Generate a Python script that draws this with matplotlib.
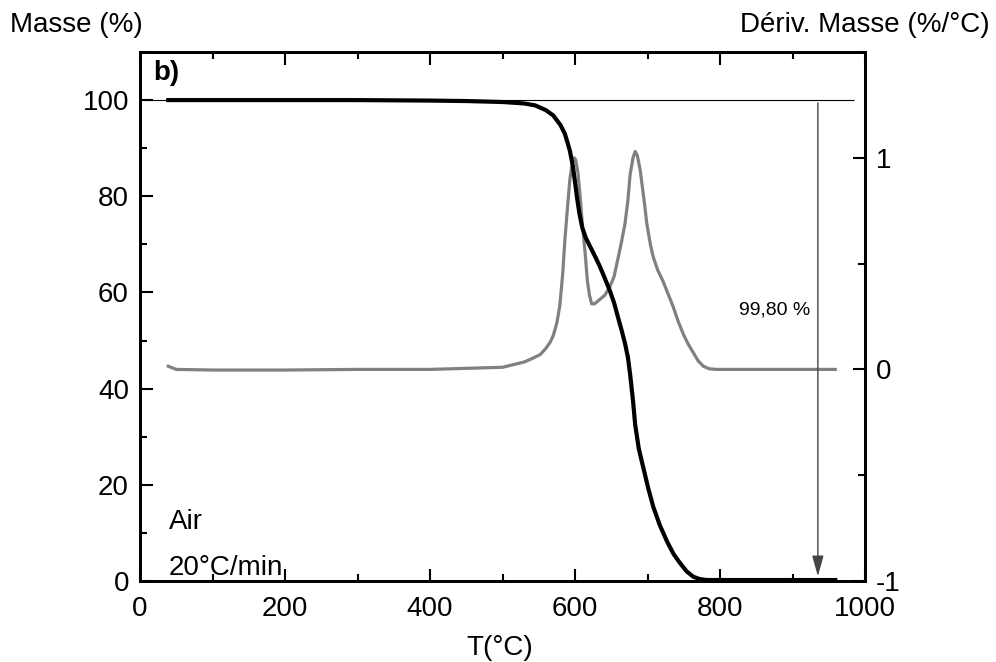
import matplotlib.pyplot as plt
from matplotlib.ticker import MultipleLocator

plt.rcParams['font.family'] = ['Liberation Sans', 'DejaVu Sans']

# mass loss curve (TG)
temp_tg = [39, 100, 200, 300, 400, 450, 500, 530, 545, 560, 570, 580, 586, 590, 593,
           597, 600, 603, 606, 610, 615, 621, 628, 634, 641, 648, 654, 659, 664, 669,
           673, 676, 680, 683, 688, 694, 701, 708, 717, 727, 736, 745, 754, 763, 772,
           782, 820, 900, 959]
mass = [100, 100, 100, 100, 99.9, 99.8, 99.6, 99.3, 98.9, 97.9, 96.8, 94.8, 93.0, 91.0,
        89.4, 86.3, 83.0, 79.5, 76.5, 73.5, 71.3, 69.5, 67.4, 65.5, 63.0, 60.4, 57.8,
        55.0, 52.3, 49.4, 46.5, 43.0, 37.5, 32.5, 27.5, 23.7, 19.3, 15.4, 11.6, 8.2,
        5.6, 3.7, 2.0, 0.9, 0.4, 0.2, 0.2, 0.2, 0.2]

# derivative curve (DTG)
temp_dtg = [39, 50, 100, 200, 300, 400, 500, 530, 540, 552, 560, 566, 570, 575, 579,
            583, 586, 590, 593, 596, 599, 601, 604, 607, 610, 614, 617, 620, 623, 627,
            634, 641, 648, 654, 659, 664, 669, 673, 676, 680, 683, 686, 690, 693, 696,
            699, 704, 708, 714, 721, 728, 735, 742, 749, 756, 763, 770, 777, 785, 795,
            850, 900, 959]
deriv = [0.015, 0.0, -0.003, -0.003, 0.0, 0.0, 0.01, 0.035, 0.05, 0.07, 0.10, 0.13,
         0.16, 0.22, 0.30, 0.45, 0.61, 0.78, 0.90, 0.97, 1.00, 0.99, 0.93, 0.82, 0.69,
         0.55, 0.42, 0.35, 0.31, 0.31, 0.33, 0.35, 0.39, 0.44, 0.52, 0.60, 0.69, 0.80,
         0.92, 1.00, 1.03, 1.01, 0.94, 0.86, 0.78, 0.69, 0.59, 0.53, 0.47, 0.42, 0.36,
         0.30, 0.23, 0.17, 0.12, 0.08, 0.04, 0.015, 0.003, 0.0, 0.0, 0.0, 0.0]

total_loss = '99,80 %'
arrow_T = 935

fig = plt.figure(figsize=(9.96, 6.62), dpi=100)
ax = fig.add_axes([140 / 996, 1 - 581 / 662, 725 / 996, 529 / 662])
ax2 = ax.twinx()
ax.set_zorder(ax2.get_zorder() + 1)
ax.patch.set_visible(False)

ax2.plot(temp_dtg, deriv, color='#808080', lw=2.3)
ax.hlines(100, 0, 985, color='black', lw=0.8)
ax.plot(temp_tg, mass, color='black', lw=3)
ax.annotate('', xy=(arrow_T, 0.4), xytext=(arrow_T, 100),
            arrowprops=dict(arrowstyle='-|>,head_length=0.9,head_width=0.25',
                            color='#444444', lw=1, mutation_scale=14))
ax.text(876, 56.3, total_loss, fontsize=14, ha='center', va='center')

ax.set_xlim(0, 1000)
ax.set_ylim(0, 110)
ax2.set_ylim(-1, 1.5)

ax.xaxis.set_major_locator(MultipleLocator(200))
ax.xaxis.set_minor_locator(MultipleLocator(100))
ax.yaxis.set_major_locator(MultipleLocator(20))
ax.yaxis.set_minor_locator(MultipleLocator(10))
ax2.yaxis.set_major_locator(MultipleLocator(1))
ax2.yaxis.set_minor_locator(MultipleLocator(0.5))

ax.tick_params(which='both', direction='in', top=True, labelsize=20, width=1.5, pad=8)
ax.tick_params(axis='x', which='both', pad=11)
ax.tick_params(which='major', length=9)
ax.tick_params(which='minor', length=5)
ax2.tick_params(which='both', direction='in', labelsize=20, width=1.5, pad=8)
ax2.tick_params(which='major', length=9)
ax2.tick_params(which='minor', length=5)
ax2.set_yticks([-1, 0, 1])
ax2.set_yticklabels(['-1', '0', '1'])

for a in (ax, ax2):
    for s in a.spines.values():
        s.set_linewidth(2)

ax.text(0.018, 0.985, 'b)', transform=ax.transAxes, fontsize=20, fontweight='bold', va='top')
ax.text(40, 12.2, 'Air', fontsize=20, va='center')
ax.text(40, 2.6, '20°C/min', fontsize=20, va='center')

fig.text(500 / 996, 1 - 648 / 662, 'T(°C)', fontsize=20, ha='center', va='center')
fig.text(10 / 996, 1 - 25 / 662, 'Masse (%)', fontsize=20, ha='left', va='center')
fig.text(990 / 996, 1 - 25 / 662, 'Dériv. Masse (%/°C)', fontsize=20, ha='right', va='center')

fig.savefig('out.png', dpi=100)
